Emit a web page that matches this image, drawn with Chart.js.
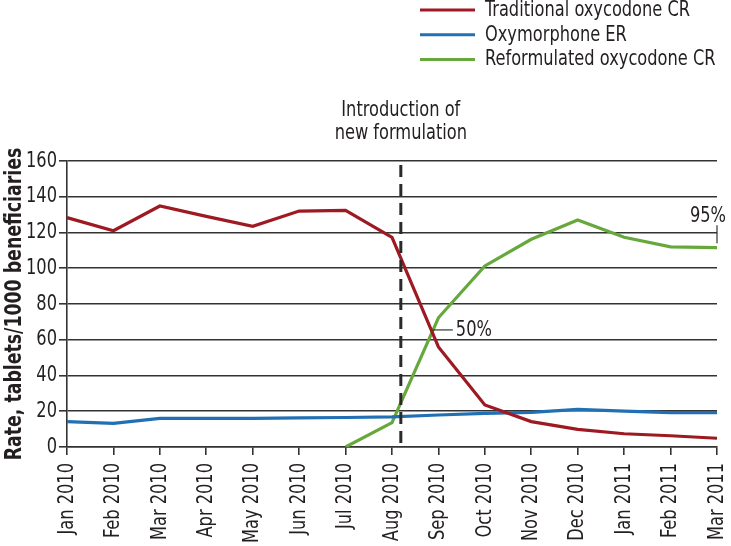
<!DOCTYPE html>
<html>
<head>
<meta charset="utf-8">
<script src="https://cdn.jsdelivr.net/npm/chart.js@4/dist/chart.umd.min.js"></script>
<style>
  html, body { margin: 0; padding: 0; background: #fff; }
  #wrap { width: 731px; height: 546px; }
</style>
</head>
<body>
<div id="wrap"><canvas id="c" width="731" height="546"></canvas></div>
<script>
// ---- data ----
const months = ["Jan 2010","Feb 2010","Mar 2010","Apr 2010","May 2010","Jun 2010","Jul 2010","Aug 2010","Sep 2010","Oct 2010","Nov 2010","Dec 2010","Jan 2011","Feb 2011","Mar 2011"];
const traditionalOxycodone = [128.3,121,134.8,129,123.5,132,132.4,117.3,56,23.5,14.2,9.9,7.4,6.3,4.9];
const oxymorphoneER = [14.2,13.2,16,16,16,16.3,16.5,16.8,17.9,18.8,19.4,21.1,20.1,19.2,19.2];
const reformulatedOxycodone = [null,null,null,null,null,null,0,13.6,72.3,101.3,116.2,127,117.3,112,111.5];
const seriesNames = ["Traditional oxycodone CR","Oxymorphone ER","Reformulated oxycodone CR"];
const yTicks = [0,20,40,60,80,100,120,140,160];
const introIndex = 7.19;               // position of "Introduction of new formulation"
const introLabel = ["Introduction of","new formulation"];
const fiftyPct = {x: 7.88, y: 65.5, label: "50%"};
const ninetyFivePct = {x: 14, yLow: 114, yHigh: 124, label: "95%"};
const yTitle = "Rate, tablets/1000 beneficiaries";

const FONT = "'DejaVu Sans Condensed', 'Liberation Sans Narrow', sans-serif";
const TXT = "#231f20";
const GRID = "#333333";
const colors = ["#9e1a22", "#2170b4", "#67a83d"];

Chart.defaults.font.family = FONT;
Chart.defaults.font.size = 22;
Chart.defaults.color = TXT;

// condense text horizontally (reference uses a condensed face)
const canvas = document.getElementById("c");
const ctx0 = canvas.getContext("2d");
const SX = 0.82;
const origFill = ctx0.fillText.bind(ctx0);
const origMeasure = ctx0.measureText.bind(ctx0);
ctx0.fillText = function (t, x, y) {
  this.save(); this.translate(x, y); this.scale(SX, 1); origFill(t, 0, 0); this.restore();
};
ctx0.measureText = function (t) {
  const m = origMeasure(t);
  return {
    width: m.width * SX,
    actualBoundingBoxAscent: m.actualBoundingBoxAscent,
    actualBoundingBoxDescent: m.actualBoundingBoxDescent,
    actualBoundingBoxLeft: m.actualBoundingBoxLeft * SX,
    actualBoundingBoxRight: m.actualBoundingBoxRight * SX
  };
};

const overlay = {
  id: "overlay",
  afterDatasetsDraw(chart) {
    const ctx = chart.ctx;
    const xs = chart.scales.x, ys = chart.scales.y;
    ctx.save();
    // dashed introduction line (drawn upward from the axis)
    const xi = xs.getPixelForValue(introIndex);
    ctx.strokeStyle = "#2a2a2a";
    ctx.lineWidth = 3;
    ctx.setLineDash([12, 7]);
    ctx.beginPath();
    ctx.moveTo(xi, ys.bottom - 4);
    ctx.lineTo(xi, ys.getPixelForValue(159));
    ctx.stroke();
    ctx.setLineDash([]);
    // intro text
    ctx.fillStyle = TXT;
    ctx.font = "22px " + FONT;
    ctx.textAlign = "center";
    ctx.textBaseline = "middle";
    ctx.fillText(introLabel[0], xi, 110);
    ctx.fillText(introLabel[1], xi, 133);
    // 50% annotation
    const fx = xs.getPixelForValue(fiftyPct.x), fy = ys.getPixelForValue(fiftyPct.y);
    ctx.strokeStyle = "#333";
    ctx.lineWidth = 1.2;
    ctx.beginPath();
    ctx.moveTo(fx, fy);
    ctx.lineTo(fx + 20, fy);
    ctx.stroke();
    ctx.textAlign = "left";
    ctx.fillText(fiftyPct.label, fx + 23, fy);
    // 95% annotation
    const nx = xs.getPixelForValue(ninetyFivePct.x);
    const ny1 = ys.getPixelForValue(ninetyFivePct.yHigh), ny2 = ys.getPixelForValue(ninetyFivePct.yLow);
    ctx.beginPath();
    ctx.moveTo(nx, ny1);
    ctx.lineTo(nx, ny2);
    ctx.stroke();
    ctx.textAlign = "center";
    ctx.textBaseline = "bottom";
    ctx.fillText(ninetyFivePct.label, nx - 9, ny1 + 2);
    // legend
    ctx.textAlign = "left";
    ctx.textBaseline = "middle";
    chart.data.datasets.forEach((ds, i) => {
      const y = 10 + 24.8 * i;
      ctx.strokeStyle = ds.borderColor;
      ctx.lineWidth = 3;
      ctx.beginPath();
      ctx.moveTo(420, y);
      ctx.lineTo(475, y);
      ctx.stroke();
      ctx.fillStyle = TXT;
      ctx.fillText(ds.label, 485, y);
    });
    ctx.restore();
  }
};

new Chart(canvas, {
  type: "line",
  data: {
    labels: months,
    datasets: [
      { label: seriesNames[0], data: traditionalOxycodone, borderColor: colors[0] },
      { label: seriesNames[1], data: oxymorphoneER, borderColor: colors[1] },
      { label: seriesNames[2], data: reformulatedOxycodone, borderColor: colors[2] }
    ].map(d => Object.assign(d, { borderWidth: 3.2, pointRadius: 0, tension: 0, fill: false, spanGaps: false }))
  },
  options: {
    responsive: false,
    animation: false,
    layout: { padding: { top: 161, right: 14, left: 0, bottom: 0 } },
    plugins: { legend: { display: false }, tooltip: { enabled: false } },
    scales: {
      x: {
        offset: false,
        grid: { drawOnChartArea: false, color: GRID, lineWidth: 1.6, tickLength: 8, tickColor: GRID },
        border: { color: GRID, width: 1.6 },
        ticks: { minRotation: 90, maxRotation: 90, autoSkip: false, padding: 8, font: { size: 22 }, color: TXT },
        afterFit(s) { s.height = 99; s.paddingLeft = 0; s.paddingRight = 0; }
      },
      y: {
        min: 0, max: 160,
        afterBuildTicks(s) { s.ticks = yTicks.map(v => ({ value: v })); },
        grid: { color: GRID, lineWidth: 1.6, tickLength: 8, tickColor: GRID },
        border: { color: GRID, width: 1.6 },
        ticks: { padding: 2, font: { size: 22 }, color: TXT },
        title: { display: true, text: yTitle, font: { size: 23.5, weight: "bold" }, color: TXT, padding: { top: 1, bottom: 0 } },
        afterFit(s) { s.width = 67; }
      }
    }
  },
  plugins: [overlay]
});
</script>
</body>
</html>
